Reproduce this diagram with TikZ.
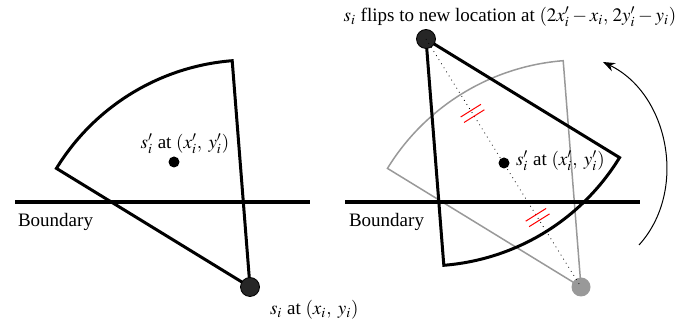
\documentclass[tikz,border=0pt]{standalone}
\usepackage{mathptmx}
\usepackage{fontspec}
\setmainfont{Liberation Serif}
\usetikzlibrary{arrows.meta,calc}

\begin{document}
\begin{tikzpicture}[
    x=0.5pt, y=-0.5pt,
    sector/.style={draw, line width=1.5pt},
    oldsector/.style={draw=black!40, line width=0.75pt},
    boundary/.style={line width=2pt},
    dot/.style={circle, fill=black, inner sep=0pt, minimum size=5.5pt},
    bigdot/.style={circle, fill=black!85, draw=black, line width=0.4pt, inner sep=0pt, minimum size=9.5pt},
    ghostdot/.style={circle, fill=black!40, inner sep=0pt, minimum size=9.5pt},
    tick/.style={red, line width=0.5pt},
    every node/.style={font=\fontsize{9.5}{11}\selectfont}
]
    \useasboundingbox (0,0) rectangle (685,324);

    % left: sector before the flip
    \coordinate (apexL) at (250,287);
    \draw[sector] (apexL) -- ++(-148.5:227) arc[start angle=-148.5, end angle=-94.5, radius=227] -- cycle;
    \coordinate (bndL1) at (15,202);
    \coordinate (bndL2) at (310,202);
    \draw[boundary] (bndL1) -- (bndL2);
    \node[bigdot] (si) at (apexL) {};
    \node[dot] (spL) at (174,162) {};
    \node (spLlbl) at (185,144) {$s'_i$ at $(x'_i,\;y'_i)$};
    \node[anchor=west] (silbl) at (263,310) {$s_i$ at $(x_i,\;y_i)$};
    \node[anchor=west] (bndLlbl) at (11,222) {Boundary};

    % right: old position in grey, flipped sector in black
    \coordinate (apexR) at (581,287);
    \coordinate (apexF) at (426,39);
    \draw[oldsector] (apexR) -- ++(-148.5:227) arc[start angle=-148.5, end angle=-94.5, radius=227] -- cycle;
    \draw[sector] (apexF) -- ++(31.5:227) arc[start angle=31.5, end angle=85.5, radius=227] -- cycle;
    \coordinate (bndR1) at (345,202);
    \coordinate (bndR2) at (640,202);
    \draw[boundary] (bndR1) -- (bndR2);
    \node[ghostdot] (siold) at (apexR) {};
    \node[bigdot] (sinew) at (apexF) {};
    \draw[dotted, line width=0.4pt] (sinew.center) -- (siold.center);
    \node[dot] (spR) at (504,163) {};
    \node[anchor=west] (spRlbl) at (509,161) {$s'_i$ at $(x'_i,\;y'_i)$};
    \node[anchor=west] (bndRlbl) at (342,222) {Boundary};
    \node (fliplbl) at (510,17) {$s_i$ flips to new location at $(2x'_i - x_i,\,2y'_i - y_i)$};

    % equal-length marks
    \foreach \p in {0.3,0.72} {
        \foreach \s in {-1,1} {
            \pgfmathsetmacro\q{\p+0.011*\s}
            \coordinate (m) at ($(sinew.center)!\q!(siold.center)$);
            \draw[tick] ($(m)!6pt!90:(siold.center)$) -- ($(m)!6pt!-90:(siold.center)$);
        }
    }

    % rotation arrow
    \coordinate (rotS) at (639,245);
    \coordinate (rotE) at (603,62);
    \draw[-{Stealth[length=6pt,width=4.5pt]}, line width=0.5pt] (rotS) .. controls (688,191) and (669,94) .. (rotE);
\end{tikzpicture}
\end{document}
